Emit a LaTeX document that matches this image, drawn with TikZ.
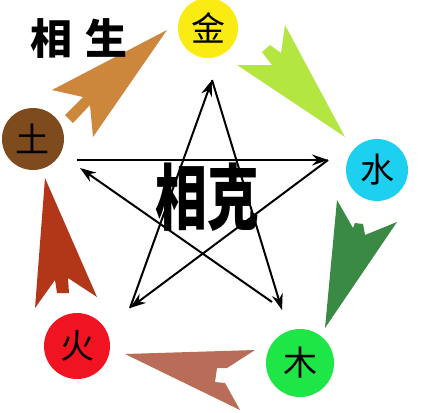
\documentclass[tikz,border=0pt]{standalone}
\usepackage{fontspec}
\newfontfamily\cjk{Noto Sans CJK SC}
\usetikzlibrary{arrows.meta}
\definecolor{jincol}{RGB}{250,235,20}
\definecolor{shuicol}{RGB}{30,208,240}
\definecolor{mucol}{RGB}{30,230,70}
\definecolor{huocol}{RGB}{240,20,35}
\definecolor{tucol}{RGB}{125,75,30}
\definecolor{tujin}{RGB}{205,135,60}
\definecolor{jinshui}{RGB}{180,230,65}
\definecolor{shuimu}{RGB}{58,138,70}
\definecolor{muhuo}{RGB}{185,108,88}
\definecolor{huotu}{RGB}{178,55,25}
\tikzset{
	element/.style={circle, inner sep=0pt, font=\cjk\fontsize{34}{34}\selectfont},
	ke/.style={line width=2pt, -{Stealth[length=16pt,width=11pt]}}
}

\begin{document}
\begin{tikzpicture}[x=1pt, y=-1pt]
			%%%%% START %%%%%
			
			\useasboundingbox (0, 0) rectangle (427, 412);
			
			\node[element, fill=jincol, minimum size=60pt] (jin) at (208, 28) {金};
			\node[element, fill=shuicol, minimum size=62pt] (shui) at (377, 170) {水};
			\node[element, fill=mucol, minimum size=68pt] (mu) at (300, 363) {木};
			\node[element, fill=huocol, minimum size=66pt] (huo) at (77, 346) {火};
			\node[element, fill=tucol, minimum size=62pt] (tu) at (33, 139) {土};
			
			\fill[tujin] (167, 30) -- (52, 90) -- (83, 97) -- (65, 115) -- (73, 123) -- (90, 105) -- (93, 137) -- cycle;
			\fill[jinshui] (345, 137) -- (285, 25) -- (281, 53) -- (270, 45) -- (262, 52) -- (272, 65) -- (237, 65) -- cycle;
			\fill[shuimu] (325, 328) -- (337, 200) -- (353, 228) -- (355, 223) -- (363, 224) -- (365, 235) -- (397, 222) -- cycle;
			\fill[muhuo] (125, 354) -- (255, 350) -- (227, 368) -- (217, 368) -- (215, 382) -- (225, 383) -- (240, 410) -- cycle;
			\fill[huotu] (45, 178) -- (35, 308) -- (55, 280) -- (57, 293) -- (69, 293) -- (68, 278) -- (97, 297) -- cycle;
			
			\node[font=\cjk\bfseries\fontsize{42}{42}\selectfont] (sheng) at (79, 39) {相\hspace{14pt}生};
			\node[font=\cjk\bfseries\fontsize{72}{72}\selectfont, xscale=0.72] (xiangke) at (207, 197) {相克};
			
			\coordinate (top) at (212, 80);
			\coordinate (right) at (328, 160);
			\coordinate (left) at (77, 160);
			\coordinate (leftb) at (80, 168);
			\coordinate (lowleft) at (130, 308);
			\coordinate (lowright) at (282, 310);
			\coordinate (lowrightb) at (272, 302);
			
			\draw[ke] (left) -- (right);
			\draw[ke] (right) -- (lowleft);
			\draw[ke] (lowleft) -- (top);
			\draw[ke] (top) -- (lowright);
			\draw[ke] (lowrightb) -- (leftb);
			
			%%%%% END %%%%%
		\end{tikzpicture}
\end{document}
